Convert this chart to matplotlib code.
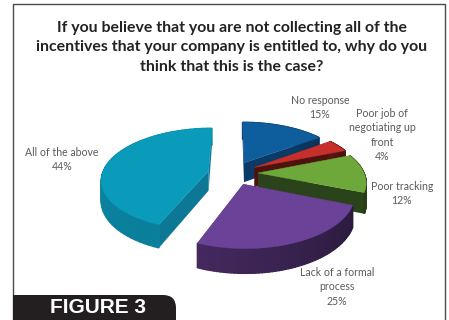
import numpy as np
import matplotlib
matplotlib.use("Agg")
import matplotlib.pyplot as plt
from matplotlib.colors import to_rgb
from matplotlib.patches import FancyBboxPatch, Rectangle

# Survey answers, clockwise from twelve o'clock
categories = ["No response", "Poor job of\nnegotiating up\nfront", "Poor tracking",
              "Lack of a formal\nprocess", "All of the above"]
shares = [15, 4, 12, 25, 44]

top_colors = ["#0E5E9E", "#C62F2C", "#6EA83A", "#6A4398", "#0A9BBB"]
wall_colors = [("#0C3F6E", "#0B3358"), ("#5E1612", "#4A100E"), ("#2E4A1B", "#263D16"),
               ("#2A1A3C", "#44285E"), ("#0A7F9C", "#0B86A5")]
face_colors = ["#0C3A66", "#4E120F", "#2B431A", "#33204A", "#0D7896"]

label_pos = [(320, 101), (382, 114), (402, 187), (337, 273), (62, 153)]
title = ("If you believe that you are not collecting all of the\n"
         "incentives that your company is entitled to, why do you\n"
         "think that this is the case?")

# Projection of the tilted pie
CX, CY = 233, 173
RX, RY = 106, 50
TILT = 0.16
EXPLODE = 0.236
DEPTH = 20


def project(px, py):
    s = 1 / (1 + TILT * py)
    return CX + RX * px * s, CY - RY * py * s, DEPTH * s


def mix(a, b, t):
    a, b = np.array(to_rgb(a)), np.array(to_rgb(b))
    return tuple(a + (b - a) * t)


fig = plt.figure(figsize=(4.49, 3.2), dpi=100)
ax = fig.add_axes([0, 0, 1, 1])
ax.set_xlim(0, 449)
ax.set_ylim(320, 0)
ax.axis("off")

edges = np.cumsum([0] + shares) / sum(shares) * 2 * np.pi
wedges = []
for i in range(len(shares)):
    t = np.linspace(edges[i], edges[i + 1], 60)
    mid = (edges[i] + edges[i + 1]) / 2
    ox, oy = EXPLODE * np.sin(mid), EXPLODE * np.cos(mid)
    wedges.append((i, t, ox, oy))

# Back slices first so the front ones overlap them
for z, (i, t, ox, oy) in enumerate([wedges[k] for k in (0, 4, 1, 2, 3)]):
    ax_, ay_, ad_ = project(ox, oy)
    x, y, d = project(ox + np.sin(t), oy + np.cos(t))
    # Radial side walls
    for j in (0, -1):
        ax.fill([ax_, x[j], x[j], ax_], [ay_, y[j], y[j] + d[j], ay_ + ad_],
                color=face_colors[i], lw=0, zorder=2 + z)
    # Curved outer wall, shaded along the arc
    for j in range(len(t) - 1):
        c = mix(wall_colors[i][0], wall_colors[i][1], j / (len(t) - 2))
        ax.fill([x[j], x[j + 1], x[j + 1], x[j]],
                [y[j], y[j + 1], y[j + 1] + d[j + 1], y[j] + d[j]],
                facecolor=c, edgecolor=c, lw=1.0, zorder=2 + z)
    ax.fill(np.r_[ax_, x], np.r_[ay_, y], color=top_colors[i], lw=0.3, zorder=2.5 + z)

for name, share, (lx, ly) in zip(categories, shares, label_pos):
    ax.text(lx, ly - 6, f"{name}\n{share}%", ha="center", va="top",
            family="Lato", fontsize=7.6, color="#5A5A5A", linespacing=1.38)

ax.text(232, 47.5, title, ha="center", va="center", family="Lato", fontweight="bold",
        fontsize=11.4, color="#222222", linespacing=1.53)

# Frame and caption tab
ax.add_patch(Rectangle((13, 4), 432, 340, fill=False, ec="#4A4A4A", lw=1.0, zorder=20))
ax.add_patch(FancyBboxPatch((13, 295), 163, 60, boxstyle="round,pad=0,rounding_size=13",
                            fc="#231F20", ec="none", zorder=21))
ax.add_patch(Rectangle((13, 295), 20, 30, fc="#231F20", ec="none", zorder=21))
ax.text(98, 307.5, "FIGURE 3", ha="center", va="center", family="Liberation Sans",
        fontweight="bold", fontsize=15, color="white", zorder=22)

fig.savefig("out.png", dpi=100)
